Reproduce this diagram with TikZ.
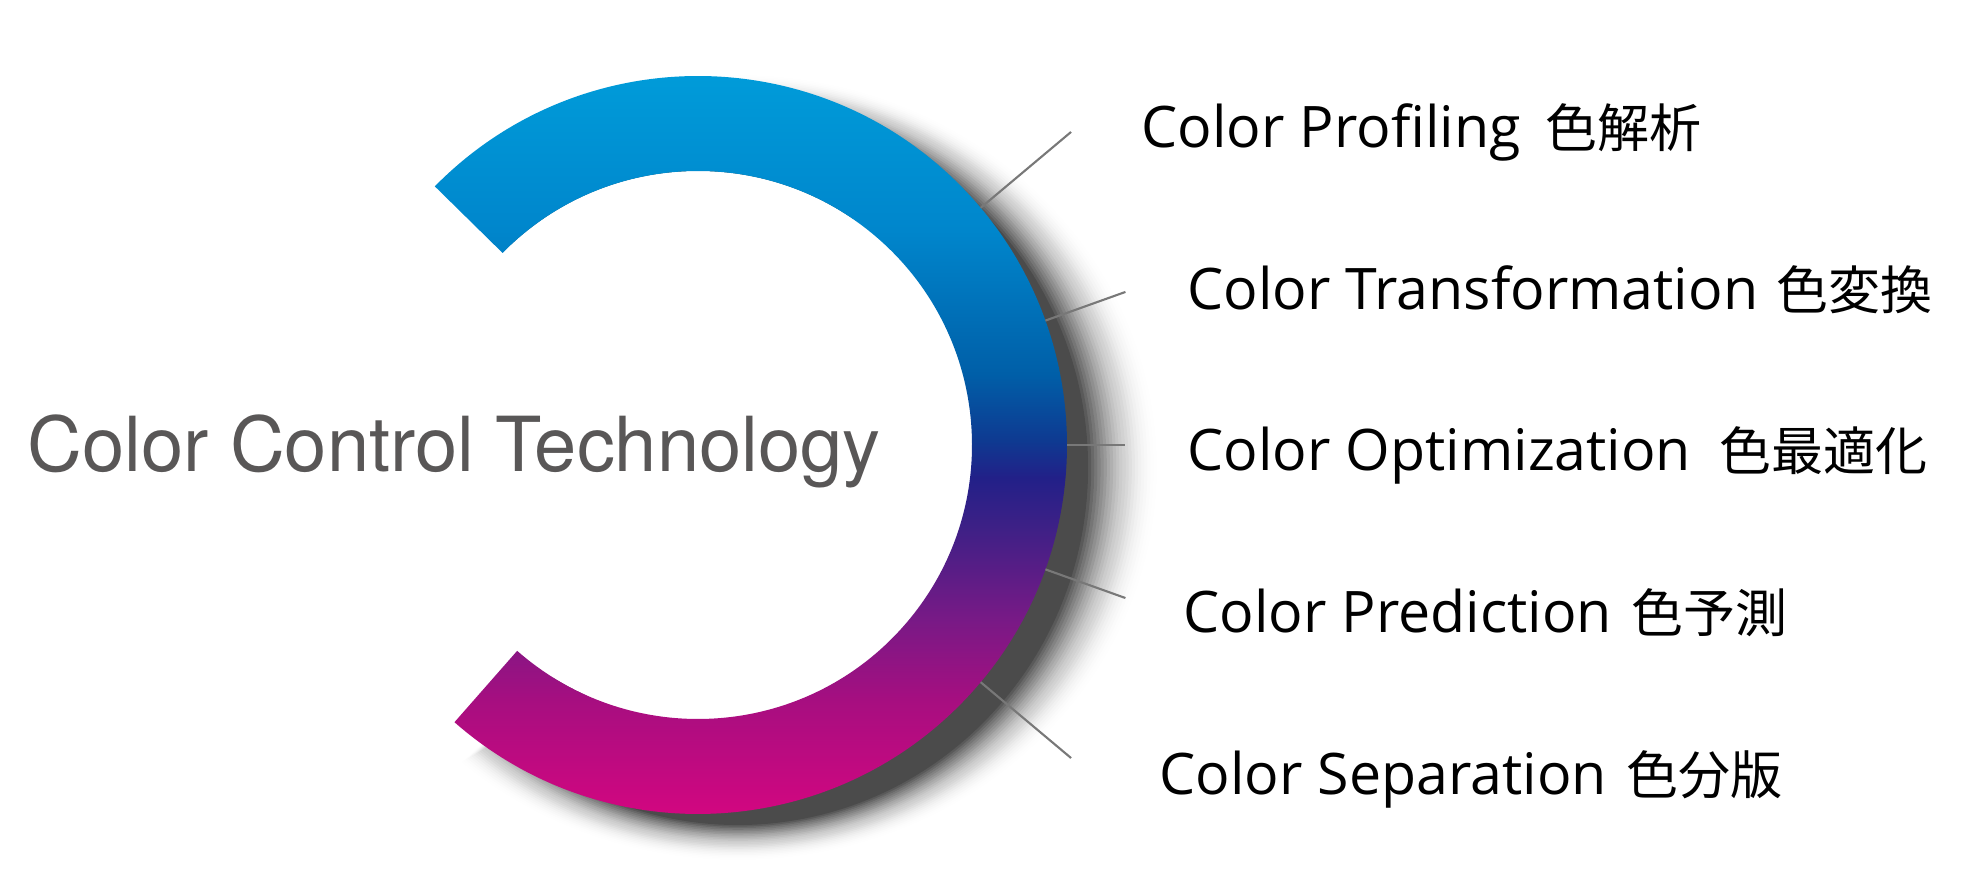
\documentclass[tikz,border=0pt]{standalone}
\usepackage{fontspec}
\setmainfont{Open Sans}
\newfontfamily\heros{TeX Gyre Heros}
\newfontfamily\cjk{Noto Sans CJK JP}
\usetikzlibrary{calc}

\definecolor{ringA}{RGB}{0,160,220}
\definecolor{ringB}{RGB}{0,134,204}
\definecolor{ringC}{RGB}{0,95,168}
\definecolor{ringD}{RGB}{14,58,145}
\definecolor{ringE}{RGB}{34,32,136}
\definecolor{ringF}{RGB}{62,32,134}
\definecolor{ringG}{RGB}{118,26,134}
\definecolor{ringH}{RGB}{168,14,128}
\definecolor{ringI}{RGB}{224,4,128}
\definecolor{titlegray}{RGB}{89,87,87}
\definecolor{tickgray}{RGB}{120,120,120}

\pgfdeclareverticalshading{ringshade}{100bp}{color(0bp)=(ringI); color(25bp)=(ringI);
  color(34.1bp)=(ringH); color(39.5bp)=(ringG); color(44.9bp)=(ringF); color(48bp)=(ringE);
  color(50.3bp)=(ringD); color(54.4bp)=(ringC); color(63.2bp)=(ringB); color(75bp)=(ringA);
  color(100bp)=(ringA)}

\tikzset{
  tick/.style={draw=tickgray, line width=0.6pt},
  lbl/.style={anchor=base west, inner sep=0pt, font=\fontsize{16.3}{18}\selectfont}
}
\newcommand{\jtext}[1]{{\cjk\fontsize{14.8}{16}\selectfont #1}}

\begin{document}
\begin{tikzpicture}
\useasboundingbox (0,0) rectangle (19.66,8.78);
\coordinate (c) at (6.98,4.33);
\coordinate (s) at ($(c)+(0.40,-0.225)$);

% soft shadow, layered so the darkness falls off smoothly
\foreach \k in {1,...,24}{
  \pgfmathsetmacro\rx{3.47+0.75*\k/24}
  \pgfmathsetmacro\ry{3.56+0.38*\k/24}
  \pgfmathsetmacro\ta{0.74*(1-(\k-0.5)/24)^2}
  \pgfmathsetmacro\tb{\k<24 ? 0.74*(1-(\k+0.5)/24)^2 : 0}
  \pgfmathsetmacro\al{1-(1-\ta)/(1-\tb)}
  \fill[black, opacity=\al] (s) ++(135.5:\rx cm and \ry cm)
    arc[start angle=135.5, end angle=-131.3, x radius=\rx, y radius=\ry]
    -- ($(s)+(-131.3:2.74)$) arc[start angle=-131.3, end angle=135.5, radius=2.74] -- cycle;
}
\fill[white] (c) circle[radius=2.74];

% ring
\shade[shading=ringshade]
  (c) ++(135.5:3.69) arc[start angle=135.5, end angle=-131.3, radius=3.69]
  -- ($(c)+(-131.3:2.74)$) arc[start angle=-131.3, end angle=135.5, radius=2.74] -- cycle;

% ticks
\foreach \a/\r [count=\i] in {40/4.87, 19.7/4.54, 0/4.27, -19.7/4.54, -40/4.87}{
  \coordinate (t\i) at ($(c)+(\a:3.69)$);
  \coordinate (e\i) at ($(c)+(\a:\r)$);
  \draw[tick] (t\i) -- (e\i);
}

\node[anchor=base west, inner sep=0pt, text=titlegray, font=\heros\fontsize{21.6}{24}\selectfont] (title) at (0.27,4.06) {Color Control Technology};

\node[lbl] (prof) at (11.41,7.30) {Color Profiling \hspace{0.1cm}\jtext{色解析}};
\node[lbl] (trans) at (11.87,5.68) {Color Transformation \hspace{0.03cm}\jtext{色変換}};
\node[lbl] (opt) at (11.87,4.07) {Color Optimization \hspace{0.13cm}\jtext{色最適化}};
\node[lbl] (pred) at (11.83,2.45) {Color Prediction \hspace{0.05cm}\jtext{色予測}};
\node[lbl] (sep) at (11.59,0.83) {Color Separation \hspace{0.05cm}\jtext{色分版}};
\end{tikzpicture}
\end{document}
